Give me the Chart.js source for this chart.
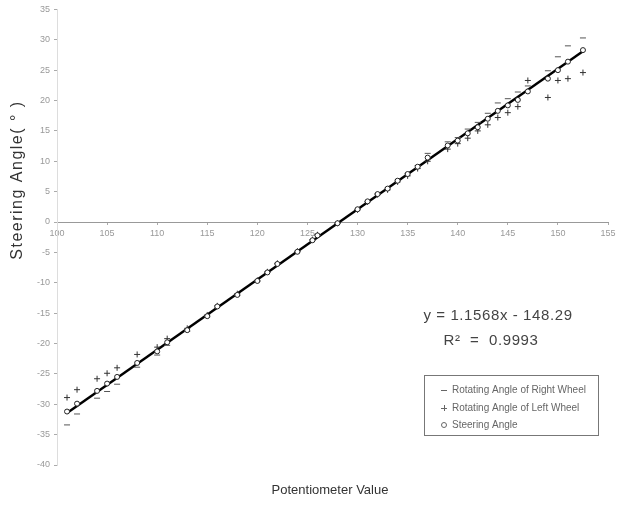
<!DOCTYPE html>
<html>
<head>
<meta charset="utf-8">
<script src="https://cdn.jsdelivr.net/npm/chart.js@4.4.1/dist/chart.umd.min.js"></script>
<style>
  html, body { margin: 0; padding: 0; background: #fff; }
  #wrap { width: 623px; height: 509px; }
</style>
</head>
<body>
<div id="wrap"><canvas id="chart" width="623" height="509"></canvas></div>
<script>
// potentiometer readings (x) and measured angles (y, degrees)
const potValues = [101, 102, 104, 105, 106, 108, 110, 111, 113, 115, 116, 118, 120, 121, 122, 124, 125.5, 126, 128, 130,
  131, 132, 133, 134, 135, 136, 137, 139, 140, 141, 142, 143, 144, 145, 146, 147, 149, 150, 151, 152.5];

const rightWheel = [-33.4, -31.6, -29.0, -27.9, -26.7, -23.9, -21.9, -20.3, -18.0, -15.6, -14.0, -12.1, -9.8, -8.3, -6.9, -4.9, -3.0, -2.2, -0.2, 2.1,
  3.4, 4.7, 5.6, 6.9, 8.0, 9.3, 11.3, 13.2, 13.9, 15.3, 16.4, 17.9, 19.6, 20.3, 21.4, 22.4, 24.9, 27.2, 29.0, 30.3];

const leftWheel = [-28.9, -27.6, -25.8, -24.9, -24.0, -21.8, -20.6, -19.2, -17.5, -15.3, -13.8, -11.8, -9.6, -8.2, -6.8, -4.8, -2.9, -2.1, -0.2, 2.0,
  3.3, 4.5, 5.3, 6.6, 7.6, 8.8, 10.0, 12.0, 12.9, 13.8, 15.0, 16.0, 17.2, 18.0, 19.0, 23.3, 20.5, 23.3, 23.6, 24.6];

const steeringAngle = [-31.2, -29.9, -27.8, -26.6, -25.5, -23.2, -21.3, -19.8, -17.8, -15.5, -13.9, -12.0, -9.7, -8.3, -6.9, -4.9, -3.0, -2.2, -0.2, 2.1,
  3.4, 4.6, 5.5, 6.8, 7.9, 9.1, 10.6, 12.6, 13.4, 14.6, 15.6, 17.0, 18.3, 19.2, 20.1, 21.5, 23.6, 25.0, 26.4, 28.3];

// linear fit printed on the chart
const fitSlope = 1.1568;
const fitIntercept = -148.29;
const fitRange = [101, 152.5];

const seriesNames = ['Rotating Angle of Right Wheel', 'Rotating Angle of Left Wheel', 'Steering Angle'];

const toPoints = ys => potValues.map((x, i) => ({ x: x, y: ys[i] }));

// axis titles, equation and legend box drawn on the canvas
const decorations = {
  id: 'decorations',
  afterDraw(chart) {
    const ctx = chart.ctx;
    ctx.save();

    // y title
    ctx.translate(18, 180);
    ctx.rotate(-Math.PI / 2);
    ctx.fillStyle = '#333';
    ctx.font = '16px "Liberation Sans", Arial, sans-serif';
    ctx.letterSpacing = '1.5px';
    ctx.textAlign = 'center';
    ctx.textBaseline = 'middle';
    ctx.fillText('Steering Angle( \u00b0 )', 0, 0);
    ctx.setTransform(1, 0, 0, 1, 0, 0);

    // x title
    ctx.letterSpacing = '0px';
    ctx.font = '13px "Liberation Sans", Arial, sans-serif';
    ctx.fillText('Potentiometer Value', 330, 490);

    // fit equation
    ctx.fillStyle = '#444';
    ctx.letterSpacing = '0.6px';
    ctx.font = '15px "Liberation Sans Narrow", "Liberation Sans", sans-serif';
    ctx.fillText('y = 1.1568x - 148.29', 498, 316);
    ctx.fillText('R\u00b2  =  0.9993', 491, 341);
    ctx.letterSpacing = '0px';

    // legend box
    const bx = 424, by = 375, bw = 174, bh = 60;
    ctx.strokeStyle = '#777';
    ctx.lineWidth = 1;
    ctx.strokeRect(bx + 0.5, by + 0.5, bw, bh);

    ctx.font = '10px "Liberation Sans Narrow", "Liberation Sans", sans-serif';
    ctx.textAlign = 'left';
    const rows = [by + 15, by + 33, by + 50];
    rows.forEach((ry, i) => {
      const mx = 444;
      ctx.strokeStyle = '#666';
      ctx.beginPath();
      if (i === 0) {
        ctx.moveTo(mx - 3, ry + 0.5); ctx.lineTo(mx + 3, ry + 0.5);
      } else if (i === 1) {
        ctx.moveTo(mx - 3, ry + 0.5); ctx.lineTo(mx + 3, ry + 0.5);
        ctx.moveTo(mx + 0.5, ry - 3); ctx.lineTo(mx + 0.5, ry + 3);
      } else {
        ctx.arc(mx, ry, 2.5, 0, Math.PI * 2);
      }
      ctx.stroke();
      ctx.fillStyle = '#666';
      ctx.fillText(seriesNames[i], 452, ry);
    });

    ctx.restore();
  }
};

new Chart(document.getElementById('chart').getContext('2d'), {
  type: 'scatter',
  data: {
    datasets: [
      {
        label: seriesNames[0],
        data: toPoints(rightWheel),
        pointStyle: 'line',
        pointRadius: 3,
        borderColor: '#555',
        borderWidth: 1,
        order: 2
      },
      {
        label: seriesNames[1],
        data: toPoints(leftWheel),
        pointStyle: 'cross',
        pointRadius: 3,
        borderColor: '#333',
        borderWidth: 1,
        order: 1
      },
      {
        label: seriesNames[2],
        data: toPoints(steeringAngle),
        pointStyle: 'circle',
        pointRadius: 2.5,
        backgroundColor: '#fff',
        borderColor: '#222',
        borderWidth: 1,
        order: 0
      },
      {
        type: 'line',
        label: 'Linear fit',
        data: fitRange.map(x => ({ x: x, y: fitSlope * x + fitIntercept })),
        borderColor: '#000',
        borderWidth: 2.5,
        pointRadius: 0,
        showLine: true,
        order: 3
      }
    ]
  },
  options: {
    responsive: false,
    animation: false,
    layout: { padding: { left: 0, top: 8, right: 15, bottom: 44 } },
    plugins: {
      legend: { display: false },
      tooltip: { enabled: false }
    },
    scales: {
      x: {
        type: 'linear',
        position: { y: 0 },
        min: 100,
        max: 155,
        grid: { drawOnChartArea: false, tickLength: 2, color: '#aaa' },
        border: { color: '#999', width: 1 },
        ticks: {
          stepSize: 5,
          color: '#999',
          padding: 4,
          font: { size: 9, family: '"Liberation Sans Narrow", "Liberation Sans", sans-serif' }
        }
      },
      y: {
        min: -40,
        max: 35,
        grid: { drawOnChartArea: false, tickLength: 3, color: '#aaa' },
        border: { color: '#ddd', width: 1 },
        afterFit: scale => { scale.width = 57; },
        ticks: {
          stepSize: 5,
          color: '#999',
          padding: 4,
          font: { size: 9, family: '"Liberation Sans Narrow", "Liberation Sans", sans-serif' }
        }
      }
    }
  },
  plugins: [decorations]
});
</script>
</body>
</html>
